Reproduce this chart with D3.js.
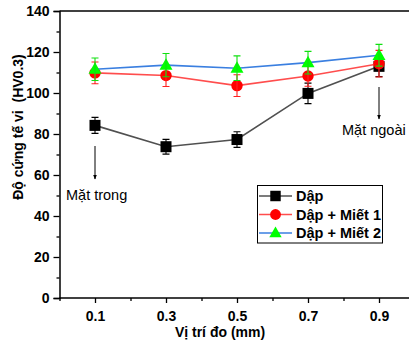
<!DOCTYPE html>
<html>
<head>
<meta charset="utf-8">
<script src="https://cdn.jsdelivr.net/npm/d3@7"></script>
<style>
  html, body { margin: 0; padding: 0; background: #fff; }
  svg { display: block; font-family: "Liberation Sans", Arial, sans-serif; }
</style>
</head>
<body>
<svg id="chart" width="409" height="345"></svg>
<script>
// Measurement positions (mm) and micro-hardness values (HV0.3)
const positions = [0.1, 0.3, 0.5, 0.7, 0.9];
const xTickLabels = ["0.1", "0.3", "0.5", "0.7", "0.9"];
const yTicks = [0, 20, 40, 60, 80, 100, 120, 140];

const dapValues = [84.2, 73.8, 77.3, 99.8, 113.0];
const dapErrors = [3.9, 3.6, 3.8, 5.0, 5.0];

const miet1Values = [109.8, 108.5, 103.6, 108.3, 114.3];
const miet1Errors = [5.3, 5.3, 5.3, 5.0, 6.5];

const miet2Values = [111.6, 113.6, 112.1, 114.8, 118.4];
const miet2Errors = [5.5, 5.7, 6.0, 5.5, 5.3];

const seriesNames = ["Dập", "Dập + Miết 1", "Dập + Miết 2"];

const series = [
  { name: seriesNames[0], values: dapValues, errors: dapErrors,
    line: "#505050", err: "#000000", fill: "#000000", shape: "square" },
  { name: seriesNames[1], values: miet1Values, errors: miet1Errors,
    line: "#ff4d4d", err: "#ff2020", fill: "#ff0000", shape: "circle" },
  { name: seriesNames[2], values: miet2Values, errors: miet2Errors,
    line: "#3a7fe0", err: "#10e010", fill: "#00ff00", shape: "triangle" }
];

const svg = d3.select("#chart");
const plotLeft = 59.5, plotRight = 414.5, plotTop = 11, plotBottom = 298;

const x = d3.scaleLinear().domain([0, 1]).range([plotLeft, plotRight]);
const y = d3.scaleLinear().domain([0, 140]).range([plotBottom, plotTop]);

// Frame (top edge)
svg.append("line")
  .attr("x1", plotLeft).attr("x2", 409).attr("y1", plotTop).attr("y2", plotTop)
  .attr("stroke", "#000").attr("stroke-width", 1.5);

// Y axis: majors every 20, minors every 10, outward
const yAxis = svg.append("g").attr("transform", `translate(${plotLeft},0)`)
  .call(d3.axisLeft(y).tickValues(yTicks).tickSize(6).tickPadding(4).tickFormat(d3.format("d")));
yAxis.select(".domain").attr("stroke-width", 1.5);
yAxis.selectAll(".tick line").attr("stroke-width", 1.3);
yAxis.selectAll(".tick text")
  .attr("font-size", 14).attr("font-weight", "bold").attr("fill", "#000")
  .attr("font-family", "Liberation Sans, Arial, sans-serif");
svg.append("g").attr("transform", `translate(${plotLeft},0)`)
  .call(d3.axisLeft(y).tickValues(d3.range(10, 140, 20)).tickSize(3).tickFormat(""))
  .call(g => g.select(".domain").remove())
  .selectAll(".tick line").attr("stroke-width", 1.3);

// X axis: labelled majors at data positions, minors between
const xAxis = svg.append("g").attr("transform", `translate(0,${plotBottom})`)
  .call(d3.axisBottom(x).tickValues(positions).tickSize(5).tickPadding(8)
    .tickFormat((d, i) => xTickLabels[i]));
xAxis.select(".domain").attr("stroke-width", 1.5).attr("d", `M${plotLeft},0H409`);
xAxis.selectAll(".tick line").attr("stroke-width", 1.3);
xAxis.selectAll(".tick text")
  .attr("font-size", 14).attr("font-weight", "bold").attr("fill", "#000")
  .attr("font-family", "Liberation Sans, Arial, sans-serif");
svg.append("g").attr("transform", `translate(0,${plotBottom})`)
  .call(d3.axisBottom(x).tickValues([0, 0.2, 0.4, 0.6, 0.8]).tickSize(3).tickFormat(""))
  .call(g => g.select(".domain").remove())
  .selectAll(".tick line").attr("stroke-width", 1.3);

// Axis titles
svg.append("text")
  .attr("x", 220).attr("y", 337).attr("text-anchor", "middle")
  .attr("font-size", 14).attr("font-weight", "bold")
  .text("Vị trí đo (mm)");
svg.append("text")
  .attr("transform", "translate(23,127) rotate(-90)")
  .attr("text-anchor", "middle")
  .attr("font-size", 14).attr("font-weight", "bold")
  .style("white-space", "pre")
  .text("Độ cứng tế vi  (HV0.3)");

// Marker drawing helper
function marker(g, shape, cx, cy, fill, scale = 1) {
  if (shape === "square") {
    const s = 11 * scale;
    g.append("rect").attr("x", cx - s / 2).attr("y", cy - s / 2)
      .attr("width", s).attr("height", s).attr("fill", fill);
  } else if (shape === "circle") {
    g.append("circle").attr("cx", cx).attr("cy", cy).attr("r", 5.7 * scale).attr("fill", fill);
  } else {
    const w = 13 * scale, h = 11.5 * scale;
    g.append("path")
      .attr("d", `M${cx},${cy - h * 0.6}L${cx + w / 2},${cy + h * 0.4}L${cx - w / 2},${cy + h * 0.4}Z`)
      .attr("fill", fill);
  }
}

// Series: line, markers, then error bars on top
series.forEach(s => {
  const g = svg.append("g");
  const pts = positions.map((p, i) => [x(p), y(s.values[i])]);
  g.append("path").attr("d", d3.line()(pts))
    .attr("fill", "none").attr("stroke", s.line).attr("stroke-width", 1.6);
  pts.forEach(([cx, cy]) => marker(g, s.shape, cx, cy, s.fill));
  positions.forEach((p, i) => {
    const cx = x(p);
    const y1 = y(s.values[i] + s.errors[i]);
    const y2 = y(s.values[i] - s.errors[i]);
    g.append("path")
      .attr("d", `M${cx},${y1}V${y2}M${cx - 3.5},${y1}H${cx + 3.5}M${cx - 3.5},${y2}H${cx + 3.5}`)
      .attr("fill", "none").attr("stroke", s.err).attr("stroke-width", 1.1);
  });
});

// Surface annotations with arrows
svg.append("defs").append("marker")
  .attr("id", "arrowhead").attr("viewBox", "0 0 10 10")
  .attr("refX", 9).attr("refY", 5)
  .attr("markerWidth", 5).attr("markerHeight", 6).attr("orient", "auto")
  .append("path").attr("d", "M0,1L10,5L0,9Z").attr("fill", "#000");

const notes = [
  { pos: 0.1, y1: 146, y2: 179, label: "Mặt trong", lx: 66, ly: 200 },
  { pos: 0.9, y1: 87, y2: 119, label: "Mặt ngoài", lx: 342, ly: 135 }
];
notes.forEach(n => {
  svg.append("line")
    .attr("x1", x(n.pos)).attr("x2", x(n.pos)).attr("y1", n.y1).attr("y2", n.y2)
    .attr("stroke", "#000").attr("stroke-width", 1)
    .attr("marker-end", "url(#arrowhead)");
  svg.append("text").attr("x", n.lx).attr("y", n.ly)
    .attr("font-size", 14.5).text(n.label);
});

// Legend
const legend = svg.append("g");
legend.append("rect")
  .attr("x", 257.5).attr("y", 185.5).attr("width", 125).attr("height", 57.5)
  .attr("fill", "#fff").attr("stroke", "#000").attr("stroke-width", 1);
series.forEach((s, i) => {
  const ly = 196 + i * 18.5;
  legend.append("line").attr("x1", 259).attr("x2", 292).attr("y1", ly).attr("y2", ly)
    .attr("stroke", s.line).attr("stroke-width", 1.6);
  marker(legend, s.shape, 275.5, ly, s.fill, 0.95);
  legend.append("text").attr("x", 296).attr("y", ly + 5)
    .attr("font-size", 14.5).attr("font-weight", "bold").text(s.name);
});
</script>
</body>
</html>
